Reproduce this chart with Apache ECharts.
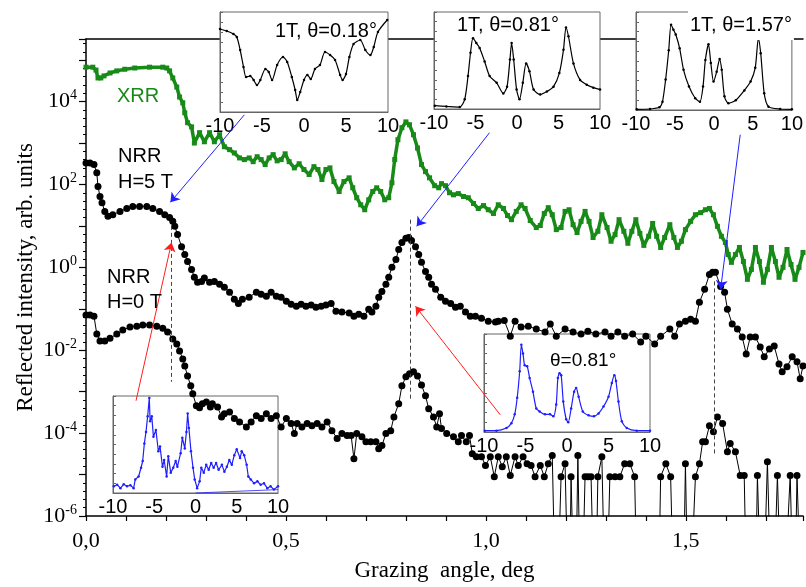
<!DOCTYPE html>
<html>
<head>
<meta charset="utf-8">
<script src="https://cdn.jsdelivr.net/npm/echarts@6/dist/echarts.min.js"></script>
<style>
html, body { margin: 0; padding: 0; background: #fff; }
#main { width: 806px; height: 587px; }
</style>
</head>
<body>
<div id="main"></div>
<script>
// main plot: grazing angle (deg) vs log10 of reflected intensity
var Z = -9; // zero counts, below the axis

var xrrAngle = [0.000,0.017,0.025,0.030,0.037,0.045,0.060,0.077,0.097,0.122,
  0.159,0.192,0.202,0.209,0.217,0.227,0.234,0.242,0.247,0.254,
  0.264,0.271,0.284,0.296,0.309,0.321,0.334,0.346,0.359,0.371,
  0.384,0.396,0.408,0.418,0.428,0.438,0.448,0.458,0.468,0.478,
  0.488,0.498,0.508,0.521,0.533,0.545,0.558,0.570,0.580,0.590,
  0.600,0.610,0.620,0.633,0.645,0.658,0.667,0.677,0.687,0.697,
  0.707,0.717,0.727,0.737,0.747,0.757,0.765,0.772,0.780,0.790,
  0.800,0.809,0.819,0.829,0.839,0.849,0.859,0.872,0.882,0.889,
  0.899,0.909,0.919,0.931,0.944,0.956,0.969,0.981,0.994,1.006,
  1.019,1.031,1.044,1.054,1.064,1.076,1.088,1.098,1.111,1.126,
  1.136,1.146,1.156,1.166,1.176,1.188,1.198,1.208,1.218,1.228,
  1.238,1.248,1.258,1.268,1.280,1.290,1.303,1.313,1.323,1.333,
  1.345,1.355,1.365,1.375,1.385,1.395,1.407,1.417,1.427,1.437,
  1.447,1.460,1.470,1.479,1.489,1.499,1.512,1.524,1.537,1.549,
  1.559,1.569,1.579,1.589,1.599,1.606,1.614,1.624,1.634,1.644,
  1.654,1.664,1.674,1.684,1.694,1.704,1.714,1.724,1.733,1.743,
  1.753,1.763,1.773,1.783,1.793];
var xrrLog = [4.83,4.83,4.76,4.57,4.57,4.62,4.69,4.74,4.78,4.81,
  4.83,4.83,4.81,4.74,4.57,4.35,4.11,3.97,3.73,3.49,
  3.39,3.00,3.25,3.03,3.25,3.03,3.20,2.91,2.84,2.76,
  2.64,2.60,2.64,2.55,2.67,2.60,2.48,2.64,2.72,2.57,
  2.60,2.74,2.55,2.40,2.50,2.36,2.24,2.43,2.36,2.12,
  2.36,2.40,2.07,1.83,2.07,2.16,1.92,1.68,1.51,1.39,
  1.63,1.83,1.92,1.83,1.63,1.68,2.04,2.60,3.08,3.37,
  3.51,3.44,3.20,2.88,2.48,2.31,2.16,1.97,1.92,2.02,
  1.97,1.80,1.75,1.78,1.71,1.68,1.54,1.42,1.49,1.39,
  1.30,1.51,1.42,1.25,1.15,1.35,1.51,1.42,1.13,0.96,
  1.01,1.30,1.44,1.27,0.91,0.96,1.35,1.39,1.03,0.84,
  1.11,1.35,1.11,0.72,0.87,1.27,0.96,0.63,0.79,1.15,
  0.87,0.58,0.87,1.15,0.82,0.53,0.75,1.06,0.75,0.48,
  0.72,1.03,0.72,0.48,0.63,0.91,1.11,1.27,1.32,1.39,
  1.42,1.27,0.99,0.75,0.60,0.31,0.12,0.31,0.48,0.14,
  -0.29,-0.05,0.48,0.14,-0.36,-0.05,0.48,0.14,-0.24,0.00,
  0.43,0.07,-0.29,0.00,0.36];

var nrr5Angle = [0.000,0.010,0.020,0.027,0.030,0.035,0.040,0.047,0.055,0.067,
  0.085,0.102,0.117,0.134,0.152,0.167,0.184,0.197,0.209,0.217,
  0.222,0.229,0.239,0.247,0.254,0.264,0.271,0.279,0.289,0.296,
  0.309,0.321,0.334,0.346,0.359,0.371,0.381,0.391,0.408,0.426,
  0.438,0.451,0.463,0.476,0.488,0.501,0.513,0.526,0.538,0.550,
  0.563,0.575,0.588,0.600,0.613,0.625,0.640,0.658,0.670,0.682,
  0.695,0.707,0.715,0.725,0.732,0.740,0.750,0.757,0.765,0.775,
  0.782,0.790,0.800,0.807,0.814,0.824,0.832,0.839,0.849,0.857,
  0.864,0.874,0.887,0.899,0.912,0.924,0.936,0.949,0.961,0.974,
  0.989,1.006,1.024,1.031,1.046,1.061,1.073,1.088,1.106,1.126,
  1.148,1.161,1.176,1.198,1.218,1.238,1.255,1.275,1.298,1.313,
  1.330,1.347,1.367,1.387,1.400,1.422,1.437,1.460,1.472,1.484,
  1.499,1.512,1.524,1.534,1.547,1.559,1.567,1.574,1.587,1.597,
  1.604,1.616,1.629,1.641,1.651,1.661,1.674,1.686,1.696,1.709,
  1.721,1.733,1.741,1.753,1.766,1.778,1.786,1.793];
var nrr5Log = [2.52,2.52,2.48,2.28,1.95,1.71,1.56,1.35,1.23,1.27,
  1.35,1.42,1.47,1.47,1.47,1.42,1.35,1.27,1.20,1.11,
  0.99,0.79,0.50,0.31,0.14,-0.05,-0.24,-0.36,-0.34,-0.26,
  -0.36,-0.34,-0.41,-0.48,-0.60,-0.77,-0.87,-0.77,-0.72,-0.60,
  -0.65,-0.70,-0.60,-0.70,-0.72,-0.82,-0.89,-0.94,-0.89,-0.94,
  -0.91,-0.96,-0.94,-0.91,-0.87,-1.06,-1.08,-1.10,-1.18,-1.13,
  -1.18,-1.01,-1.08,-0.94,-0.72,-0.58,-0.41,-0.24,0.00,0.19,
  0.43,0.60,0.70,0.72,0.65,0.50,0.31,0.12,-0.10,-0.24,
  -0.41,-0.53,-0.72,-0.82,-0.87,-0.96,-0.94,-1.08,-1.18,-1.18,
  -1.23,-1.30,-1.32,-1.30,-1.28,-1.66,-1.30,-1.44,-1.42,-1.49,
  -1.56,-1.37,-1.66,-1.49,-1.56,-1.61,-1.54,-1.61,-1.56,-1.66,
  -1.56,-1.66,-1.61,-1.80,-1.66,-1.85,-1.66,-1.49,-1.66,-1.37,
  -1.30,-1.25,-1.30,-0.84,-0.53,-0.17,-0.12,-0.12,-0.46,-0.60,
  -1.01,-1.37,-1.49,-1.68,-2.09,-1.68,-1.68,-1.92,-2.16,-1.97,
  -1.90,-2.33,-2.52,-2.40,-2.16,-2.28,-2.69,-2.38];

var nrr0Angle = [0.000,0.010,0.020,0.027,0.035,0.047,0.060,0.077,0.092,0.110,
  0.127,0.142,0.159,0.177,0.192,0.204,0.217,0.227,0.234,0.242,
  0.247,0.254,0.262,0.267,0.276,0.284,0.291,0.301,0.311,0.316,
  0.329,0.339,0.346,0.359,0.371,0.384,0.401,0.413,0.426,0.438,
  0.451,0.463,0.476,0.488,0.501,0.513,0.521,0.528,0.540,0.553,
  0.565,0.578,0.590,0.603,0.615,0.628,0.640,0.653,0.663,0.670,
  0.677,0.690,0.700,0.712,0.725,0.732,0.740,0.750,0.762,0.770,
  0.782,0.790,0.800,0.809,0.819,0.829,0.839,0.849,0.857,0.869,
  0.877,0.884,0.889,0.902,0.919,0.931,0.939,0.951,0.959,0.966,
  0.976,0.989,0.999,1.011,1.021,1.031,1.041,1.051,1.061,1.073,
  1.081,1.093,1.103,1.113,1.123,1.136,1.146,1.156,1.166,1.176,
  1.188,1.198,1.208,1.213,1.223,1.230,1.238,1.248,1.255,1.263,
  1.273,1.280,1.290,1.300,1.310,1.323,1.335,1.347,1.360,1.372,
  1.380,1.430,1.437,1.450,1.462,1.472,1.492,1.499,1.507,1.524,
  1.534,1.542,1.549,1.559,1.569,1.579,1.592,1.604,1.611,1.624,
  1.636,1.646,1.654,1.672,1.679,1.691,1.704,1.716,1.729,1.741,
  1.761,1.771,1.778,1.791];
var nrr0Log = [-1.15,-1.15,-1.18,-1.61,-1.78,-1.78,-1.71,-1.61,-1.51,-1.44,
  -1.42,-1.39,-1.39,-1.42,-1.47,-1.56,-1.73,-1.85,-2.02,-2.21,
  -2.38,-2.62,-2.86,-3.05,-3.34,-3.39,-3.29,-3.25,-3.37,-3.29,
  -3.37,-3.61,-3.53,-3.49,-3.65,-3.73,-3.85,-3.73,-3.58,-3.65,
  -3.53,-3.65,-3.58,-3.85,-3.65,-3.77,-4.01,-3.77,-3.85,-3.77,
  -3.82,-3.77,-3.85,-3.73,-3.94,-4.13,-4.01,-4.06,-4.06,-4.62,
  -4.01,-4.09,-4.21,-4.21,-4.21,-4.38,-4.30,-4.01,-3.94,-3.61,
  -3.29,-2.86,-2.64,-2.57,-2.52,-2.62,-2.84,-3.10,-3.41,-3.61,
  -3.85,-3.53,-3.89,-4.01,-4.09,-4.21,-4.06,-4.21,-4.06,-4.50,
  -4.57,-4.57,-4.78,-4.57,-5.05,-4.57,-4.81,-4.57,-5.02,-4.57,
  -4.78,-4.57,-4.74,-4.78,-5.05,-4.78,-5.05,-4.74,-4.54,Z,
  -5.05,-4.74,Z,-5.05,Z,-4.54,Z,-5.05,-5.05,-5.05,
  Z,-5.05,-4.57,Z,-5.05,-5.05,-5.05,-4.74,-4.74,-5.05,
  Z,Z,-5.05,-4.74,-5.05,Z,Z,-4.74,Z,-5.05,
  -4.74,-4.21,-4.21,-3.82,-3.97,-3.61,-3.77,-4.45,-4.25,-4.45,
  -5.02,-5.02,Z,Z,-5.02,Z,-4.69,Z,-5.02,Z,
  -5.02,Z,-5.02,Z];

// insets: rocking scans, sample angle -10..10, normalised intensity
var scan018U = [-10,-9.2,-8.4,-8.0,-7.6,-7.2,-6.9,-6.4,-6.0,-5.6,-5.2,-4.6,-4.2,-3.8,-3.2,-2.5,-2.0,-1.45,-1.05,-0.8,
  -0.45,0.0,0.4,0.8,1.3,1.9,2.5,3.1,3.7,4.3,4.6,5.0,5.4,5.9,6.7,7.3,7.9,8.3,8.8,9.9];
var scan018V = [0.83,0.81,0.78,0.75,0.62,0.45,0.35,0.36,0.32,0.27,0.32,0.43,0.40,0.32,0.47,0.55,0.50,0.35,0.22,0.12,
  0.20,0.32,0.37,0.33,0.43,0.47,0.60,0.57,0.52,0.37,0.32,0.38,0.55,0.68,0.72,0.62,0.57,0.65,0.80,0.92];

var scan081U = [-9.9,-8.5,-6.9,-6.3,-5.9,-5.6,-5.3,-4.9,-4.5,-3.9,-3.3,-2.45,-1.65,-1.2,-0.85,-0.65,-0.4,-0.05,
  0.3,0.7,1.1,1.5,2.0,2.8,3.6,4.4,5.1,5.6,5.9,6.2,6.8,7.6,8.4,9.2,10];
var scan081V = [0.034,0.027,0.02,0.1,0.34,0.58,0.73,0.68,0.63,0.49,0.34,0.27,0.16,0.23,0.51,0.68,0.51,0.2,
  0.1,0.27,0.47,0.39,0.2,0.15,0.18,0.23,0.37,0.61,0.84,0.75,0.47,0.3,0.25,0.22,0.2];

var scan157U = [-9.9,-8.2,-7.0,-6.6,-6.2,-5.8,-5.5,-5.2,-4.9,-4.4,-3.9,-3.2,-2.4,-1.8,-1.4,-1.1,-0.7,-0.4,-0.05,
  0.35,0.73,1.0,1.35,1.85,2.8,3.9,4.7,5.3,5.7,6.0,6.45,7.0,8.5,10];
var scan157V = [0.007,0.01,0.027,0.085,0.31,0.61,0.87,0.82,0.77,0.63,0.41,0.24,0.12,0.085,0.24,0.51,0.67,0.48,0.29,
  0.39,0.52,0.41,0.14,0.068,0.1,0.2,0.29,0.43,0.73,0.58,0.17,0.034,0.01,0.007];

var scan0TaU = [-9.9,-9.5,-9.1,-8.7,-8.3,-7.9,-7.5,-7.3,-6.9,-6.6,-6.4,-6.2,-6.0,-5.8,-5.6,-5.5,-5.3,-5.1,-4.8,-4.5,
  -4.3,-4.0,-3.8,-3.5,-3.3,-3.0,-2.7,-2.4,-2.2,-1.8,-1.6,-1.3,-1.1,-0.95,-0.8,-0.55,-0.3,-0.1,0.2,0.5,
  0.7,1.0,1.3,1.6,1.9,2.2,2.5,2.8,3.2,3.5,3.8,4.1,4.4,4.7,5.0,5.4,5.6,5.9,6.2,6.4,
  6.7,7.1,7.5,7.9,8.3,8.7,9.1,9.5,10];
var scan0TaV = [0.07,0.085,0.05,0.09,0.07,0.08,0.05,0.14,0.17,0.26,0.33,0.51,0.63,0.79,0.98,0.74,0.79,0.58,0.65,0.43,
  0.48,0.27,0.34,0.17,0.38,0.21,0.26,0.33,0.27,0.41,0.57,0.46,0.63,0.82,0.67,0.43,0.26,0.14,0.05,0.12,
  0.26,0.21,0.29,0.24,0.31,0.26,0.31,0.24,0.29,0.22,0.27,0.34,0.29,0.39,0.45,0.36,0.43,0.39,0.29,0.17,
  0.14,0.10,0.12,0.085,0.10,0.05,0.07,0.035,0.07];
var scan0TaTailU = [0, 10];
var scan0TaTailV = [0.0, 0.035];

var scan0TbU = [-9.9,-8.5,-7.3,-6.7,-6.3,-6.0,-5.7,-5.5,-5.3,-5.1,-4.8,-4.5,-4.1,-3.7,-3.3,-2.65,-2.05,-1.65,-1.3,-1.1,
  -0.9,-0.7,-0.45,-0.1,0.15,0.5,0.85,1.1,1.4,1.9,2.6,3.25,3.8,4.4,5.0,5.4,5.7,5.9,6.2,6.6,7.2,8.4,10];
var scan0TbV = [0.014,0.014,0.04,0.09,0.18,0.35,0.62,0.89,0.8,0.68,0.67,0.55,0.41,0.24,0.21,0.18,0.18,0.16,0.28,0.55,
  0.6,0.58,0.31,0.13,0.1,0.24,0.41,0.45,0.36,0.21,0.17,0.16,0.19,0.26,0.36,0.5,0.58,0.52,0.31,0.11,0.04,0.014,0.014];

var yTickExp = [-6, -4, -2, 0, 2, 4];
var xTickLabels = ['0,0', '0,5', '1,0', '1,5'];

function pairs(xs, ys) {
  return xs.map(function (x, i) { return [x, ys[i]]; });
}

var GREEN = '#178a17';
var BLUE = '#1f1fff';
var RED = '#ff1e1e';
var SERIF = '"Liberation Serif", "Times New Roman", serif';
var SANS = '"Liberation Sans", Arial, sans-serif';

var myChart = echarts.init(document.getElementById('main'));

// inset boxes in pixels: [left, top, width, height]
var insetBoxes = [
  [220, 12, 168, 100],
  [434, 12, 166, 97],
  [636, 12, 160, 98],
  [113, 396, 165, 97],
  [484, 334, 166, 98]
];

var grids = [{ left: 86, right: 0, top: 39, bottom: 70, show: false }];
var xAxes = [
  {
    type: 'value', gridIndex: 0, min: 0, max: 1.793, interval: 0.1,
    axisLine: { onZero: false, lineStyle: { color: '#000', width: 1.5 } },
    axisTick: { length: 5, lineStyle: { color: '#000', width: 1.2 } },
    splitLine: { show: false },
    axisLabel: {
      color: '#000', fontFamily: SERIF, fontSize: 22, margin: 14,
      formatter: function (v) {
        var k = Math.round(v * 10);
        if (Math.abs(v * 10 - k) > 1e-6 || k % 5 !== 0) return '';
        return xTickLabels[k / 5] || '';
      }
    },
    name: 'Grazing  angle, deg', nameLocation: 'middle', nameGap: 43, nameMoveOverlap: false,
    nameTextStyle: { color: '#000', fontFamily: SERIF, fontSize: 23 }
  },
  {
    type: 'value', gridIndex: 0, position: 'top', min: 0, max: 1.793,
    axisLine: { show: true, onZero: false, lineStyle: { color: '#000', width: 1.5 } },
    axisTick: { show: false }, axisLabel: { show: false }, splitLine: { show: false }
  }
];
var yAxes = [
  {
    type: 'value', gridIndex: 0, min: -6, max: 5.51, interval: 1,
    axisLine: { show: true, onZero: false, lineStyle: { color: '#000', width: 1.5 } },
    axisTick: { length: 7, lineStyle: { color: '#000', width: 1.2 } },
    minorTick: { show: true, splitNumber: 5, length: 3, lineStyle: { color: '#000' } },
    splitLine: { show: false },
    axisLabel: {
      color: '#000', margin: 9,
      formatter: function (v) {
        var n = Math.round(v);
        if (Math.abs(v - n) > 1e-6 || yTickExp.indexOf(n) < 0) return '';
        return '{b|10}{s|' + n + '}';
      },
      rich: {
        b: { fontFamily: SERIF, fontSize: 22, lineHeight: 26, color: '#000' },
        s: { fontFamily: SERIF, fontSize: 14, verticalAlign: 'top', lineHeight: 26, color: '#000' }
      }
    },
    name: 'Reflected intensity, arb. units', nameLocation: 'middle', nameGap: 49, nameMoveOverlap: false,
    nameTextStyle: { color: '#000', fontFamily: SERIF, fontSize: 23 }
  }
];

insetBoxes.forEach(function (b, i) {
  grids.push({
    left: b[0], top: b[1], width: b[2], height: b[3], show: true, z: 1,
    backgroundColor: '#fff', borderColor: '#666', borderWidth: 1
  });
  xAxes.push({
    type: 'value', gridIndex: i + 1, min: -10, max: 10, interval: 5, z: 2,
    axisLine: { onZero: false, lineStyle: { color: '#666' } },
    axisTick: { show: false }, splitLine: { show: false },
    axisLabel: { color: '#000', fontFamily: SANS, fontSize: 20, margin: 4 }
  });
  yAxes.push({
    type: 'value', gridIndex: i + 1, min: 0, max: 1, interval: 0.1, z: 2,
    axisLine: { show: true, onZero: false, lineStyle: { color: '#666' } },
    axisTick: { inside: true, length: 3, lineStyle: { color: '#666' } },
    axisLabel: { show: false }, splitLine: { show: false }
  });
});

function insetSeries(idx, u, v, color, extra) {
  var s = {
    type: 'line', xAxisIndex: idx + 2, yAxisIndex: idx + 1, z: 3,
    data: pairs(u, v), symbol: 'circle', symbolSize: 2.5, showSymbol: true,
    smooth: 0.25,
    lineStyle: { color: color, width: 1.2 }, itemStyle: { color: color },
    animation: false, silent: true
  };
  return Object.assign(s, extra || {});
}

function seg(x1, y1, x2, y2, style) {
  return [{ coord: [x1, y1], lineStyle: style }, { coord: [x2, y2] }];
}
var dashStyle = { color: '#444', type: [4, 3], width: 1 };
var blueArrow = { color: BLUE, type: 'solid', width: 1 };
var redArrow = { color: RED, type: 'solid', width: 1 };

var option = {
  animation: false,
  grid: grids,
  xAxis: xAxes,
  yAxis: yAxes,
  series: [
    {
      name: 'XRR', type: 'line', xAxisIndex: 0, yAxisIndex: 0,
      data: pairs(xrrAngle, xrrLog), symbol: 'rect', symbolSize: 5,
      lineStyle: { color: GREEN, width: 3.5 }, itemStyle: { color: GREEN }
    },
    {
      name: 'NRR H=5 T', type: 'line', xAxisIndex: 0, yAxisIndex: 0,
      data: pairs(nrr5Angle, nrr5Log), symbol: 'circle', symbolSize: 7,
      lineStyle: { color: '#000', width: 1 }, itemStyle: { color: '#000' },
      markLine: {
        silent: true, symbol: ['none', 'none'], label: { show: false },
        data: [
          seg(0.212, 1.0, 0.212, -2.76, dashStyle),
          seg(0.812, 1.15, 0.812, -3.17, dashStyle),
          seg(1.572, -0.34, 1.572, -4.5, dashStyle)
        ]
      }
    },
    {
      name: 'NRR H=0 T', type: 'line', xAxisIndex: 0, yAxisIndex: 0,
      data: pairs(nrr0Angle, nrr0Log), symbol: 'circle', symbolSize: 7,
      lineStyle: { color: '#000', width: 1 }, itemStyle: { color: '#000' },
      markLine: {
        silent: true, symbol: ['none', 'arrow'], symbolSize: 9, label: { show: false },
        data: [
          seg(0.396, 3.68, 0.211, 1.57, blueArrow),
          seg(1.009, 3.25, 0.827, 0.99, blueArrow),
          seg(1.636, 3.20, 1.587, -0.53, blueArrow),
          seg(0.125, -3.22, 0.214, 0.60, redArrow),
          seg(1.036, -3.56, 0.824, -0.94, redArrow)
        ]
      }
    },
    insetSeries(0, scan018U, scan018V, '#000'),
    insetSeries(1, scan081U, scan081V, '#000'),
    insetSeries(2, scan157U, scan157V, '#000'),
    insetSeries(3, scan0TaU, scan0TaV, BLUE, { smooth: false }),
    insetSeries(3, scan0TaTailU, scan0TaTailV, BLUE, { symbol: 'none', smooth: false, lineStyle: { color: BLUE, width: 0.8 } }),
    insetSeries(4, scan0TbU, scan0TbV, BLUE)
  ],
  graphic: [
    { type: 'text', z: 100, x: 117, y: 96, style: { text: 'XRR', font: '20px ' + SANS, fill: GREEN, verticalAlign: 'middle' } },
    { type: 'text', z: 100, x: 118, y: 156, style: { text: 'NRR', font: '20px ' + SANS, fill: '#000', verticalAlign: 'middle' } },
    { type: 'text', z: 100, x: 118, y: 182, style: { text: 'H=5 T', font: '20px ' + SANS, fill: '#000', verticalAlign: 'middle' } },
    { type: 'text', z: 100, x: 107, y: 277, style: { text: 'NRR', font: '20px ' + SANS, fill: '#000', verticalAlign: 'middle' } },
    { type: 'text', z: 100, x: 107, y: 302, style: { text: 'H=0 T', font: '20px ' + SANS, fill: '#000', verticalAlign: 'middle' } },
    { type: 'text', z: 100, x: 275, y: 31, style: { text: '1T, \u03b8=0.18\u00b0', font: '20px ' + SANS, fill: '#000', verticalAlign: 'middle' } },
    { type: 'text', z: 100, x: 455, y: 25, style: { text: '1T, \u03b8=0.81\u00b0', font: '20px ' + SANS, fill: '#000', verticalAlign: 'middle', backgroundColor: '#fff', padding: [2, 2] } },
    { type: 'text', z: 100, x: 688, y: 25, style: { text: '1T, \u03b8=1.57\u00b0', font: '20px ' + SANS, fill: '#000', verticalAlign: 'middle', backgroundColor: '#fff', padding: [5, 2] } },
    { type: 'text', z: 100, x: 550, y: 361, style: { text: '\u03b8=0.81\u00b0', font: '19px ' + SANS, fill: '#000', verticalAlign: 'middle' } }
  ]
};
myChart.setOption(option);
</script>
</body>
</html>
